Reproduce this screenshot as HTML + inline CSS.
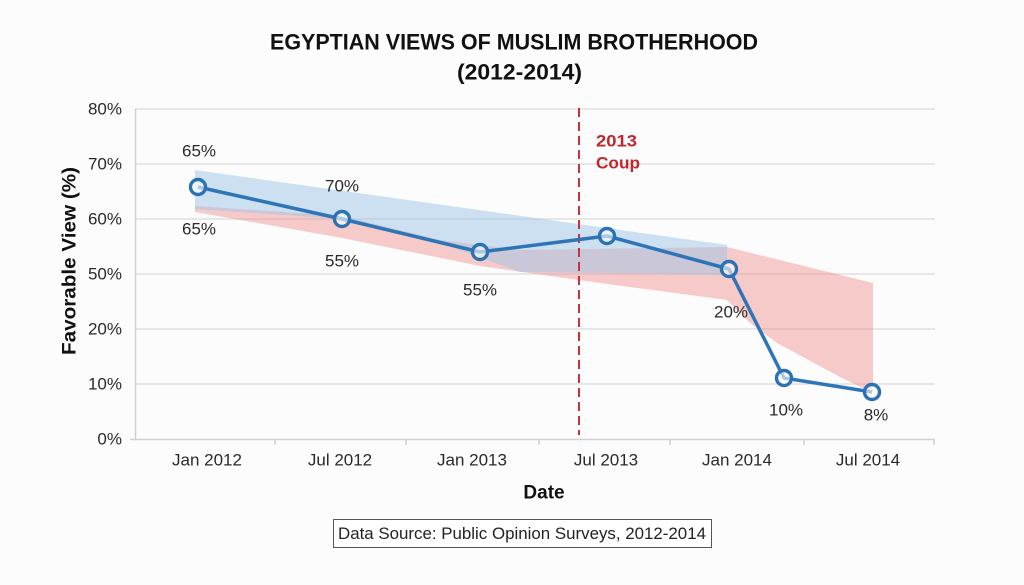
<!DOCTYPE html>
<html>
<head>
<meta charset="utf-8">
<style>
  html,body{margin:0;padding:0;background:#fcfcfc;}
  svg{display:block;}
  text{font-family:"Liberation Sans",Arial,sans-serif;}
</style>
</head>
<body>
<svg width="1024" height="585" viewBox="0 0 1024 585" xmlns="http://www.w3.org/2000/svg">
  <rect x="0" y="0" width="1024" height="585" fill="#fcfcfc"/>

  <!-- Title -->
  <text x="270" y="42" font-size="22" font-weight="bold" fill="#111" dominant-baseline="central" textLength="488" lengthAdjust="spacingAndGlyphs">EGYPTIAN VIEWS OF MUSLIM BROTHERHOOD</text>
  <text x="519.5" y="72" font-size="22" font-weight="bold" fill="#111" dominant-baseline="central" text-anchor="middle" textLength="125" lengthAdjust="spacingAndGlyphs">(2012-2014)</text>

  <!-- Gridlines -->
  <g stroke="#dadada" stroke-width="1.2">
    <line x1="135" y1="109" x2="935" y2="109"/>
    <line x1="135" y1="164" x2="935" y2="164"/>
    <line x1="135" y1="219" x2="935" y2="219"/>
    <line x1="135" y1="274" x2="935" y2="274"/>
    <line x1="135" y1="329" x2="935" y2="329"/>
    <line x1="135" y1="384" x2="935" y2="384"/>
  </g>
  <!-- Axes -->
  <g stroke="#d0d0d0" stroke-width="1.5">
    <line x1="135.5" y1="109" x2="135.5" y2="440"/>
    <line x1="130" y1="439.5" x2="935" y2="439.5"/>
    <line x1="275" y1="439" x2="275" y2="445"/>
    <line x1="406" y1="439" x2="406" y2="445"/>
    <line x1="539" y1="439" x2="539" y2="445"/>
    <line x1="670" y1="439" x2="670" y2="445"/>
    <line x1="804" y1="439" x2="804" y2="445"/>
    <line x1="934" y1="439" x2="934" y2="445"/>
  </g>

  <!-- Y tick labels -->
  <g font-size="17" fill="#2a2a2a" text-anchor="end" dominant-baseline="central">
    <text x="122" y="109">80%</text>
    <text x="122" y="164">70%</text>
    <text x="122" y="219">60%</text>
    <text x="122" y="274">50%</text>
    <text x="122" y="329">20%</text>
    <text x="122" y="384">10%</text>
    <text x="122" y="439">0%</text>
  </g>

  <!-- Y axis title -->
  <text transform="translate(70,261) rotate(-90)" font-size="19" font-weight="bold" fill="#111" text-anchor="middle" dominant-baseline="central" textLength="188" lengthAdjust="spacingAndGlyphs">Favorable View (%)</text>

  <!-- X tick labels -->
  <g font-size="17" fill="#2a2a2a" text-anchor="middle" dominant-baseline="central">
    <text x="207" y="460">Jan 2012</text>
    <text x="340" y="460">Jul 2012</text>
    <text x="472" y="460">Jan 2013</text>
    <text x="606" y="460">Jul 2013</text>
    <text x="737" y="460">Jan 2014</text>
    <text x="868" y="460">Jul 2014</text>
  </g>

  <!-- X axis title -->
  <text x="544" y="493" font-size="19" font-weight="bold" fill="#111" text-anchor="middle" dominant-baseline="central">Date</text>

  <!-- Bands -->
  <polygon fill="#f08080" fill-opacity="0.4" points="195,206 342,216 440,240 520,250 727,247 873,283 873,393 840,377 777,343 750,323 727,300 600,283 480,266 342,238 195,212"/>
  <polygon fill="#9dc3e6" fill-opacity="0.5" points="195,170 727,245 727,275 520,272 440,243 342,219 195,209"/>

  <!-- Coup line -->
  <line x1="579" y1="108" x2="579" y2="435" stroke="#c8313e" stroke-width="2" stroke-dasharray="9,5"/>
  <text x="596" y="141" font-size="17" font-weight="bold" fill="#c0272d" dominant-baseline="central" textLength="41" lengthAdjust="spacingAndGlyphs">2013</text>
  <text x="596" y="163" font-size="17" font-weight="bold" fill="#c0272d" dominant-baseline="central" textLength="44" lengthAdjust="spacingAndGlyphs">Coup</text>

  <!-- Data line -->
  <polyline fill="none" stroke="#2e75b6" stroke-width="3.5" stroke-linejoin="round" points="198,187 342,219 480,252 607,236 729,269 784,378 872,392"/>
  <g fill="#ffffff" fill-opacity="0.6" stroke="#2b72b4" stroke-width="3.4">
    <circle cx="198" cy="187" r="7.5"/>
    <circle cx="342" cy="219" r="7.5"/>
    <circle cx="480" cy="252" r="7.5"/>
    <circle cx="607" cy="236" r="7.5"/>
    <circle cx="729" cy="269" r="7.5"/>
    <circle cx="784" cy="378" r="7.5"/>
    <circle cx="872" cy="392" r="7.5"/>
  </g>

  <!-- Data labels -->
  <g font-size="17" fill="#2a2a2a" text-anchor="middle" dominant-baseline="central">
    <text x="199" y="151">65%</text>
    <text x="199" y="229">65%</text>
    <text x="342" y="186">70%</text>
    <text x="342" y="261">55%</text>
    <text x="480" y="290">55%</text>
    <text x="731" y="312">20%</text>
    <text x="786" y="410">10%</text>
    <text x="876" y="415">8%</text>
  </g>

  <!-- Source box -->
  <rect x="333.5" y="519.5" width="378" height="28" fill="#ffffff" stroke="#555" stroke-width="1"/>
  <text x="522" y="533.5" font-size="17" fill="#222" text-anchor="middle" dominant-baseline="central" textLength="368" lengthAdjust="spacingAndGlyphs">Data Source: Public Opinion Surveys, 2012-2014</text>
</svg>
</body>
</html>
